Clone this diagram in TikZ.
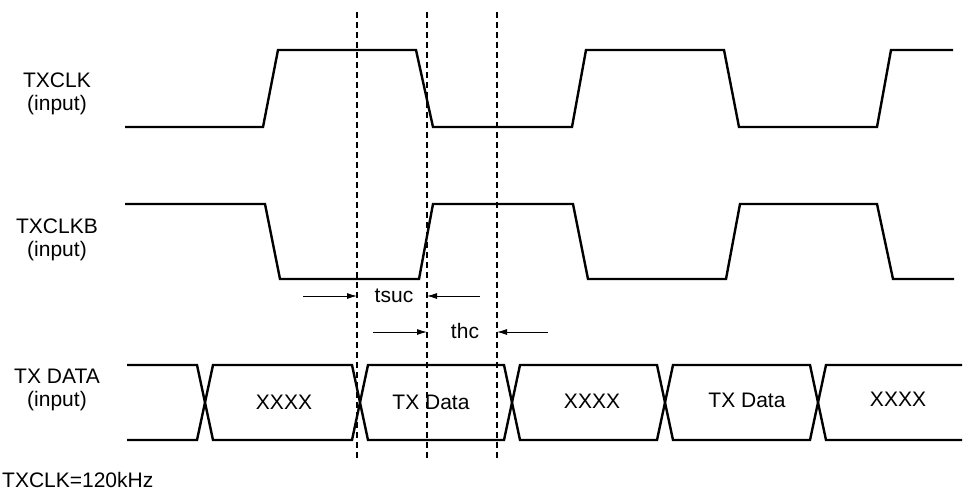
\documentclass[tikz,border=0pt]{standalone}
\usepackage{fontspec}
\setmainfont{Liberation Sans}
\usetikzlibrary{arrows.meta}
\begin{document}
\begin{tikzpicture}[x=1pt,y=-1pt,
  wave/.style={line width=2.4pt, line join=miter},
  guide/.style={line width=1.3pt, dash pattern=on 6pt off 4pt},
  dimarrow/.style={line width=0.9pt, -{Latex[length=10pt,width=6pt]}},
  lbl/.style={font=\fontsize{21}{23}\selectfont, inner sep=0pt, align=center},
  txt/.style={font=\fontsize{21}{23}\selectfont, inner sep=0pt}]
\useasboundingbox (0,0) rectangle (964,493);
% signal labels
\node[lbl] (lclk) at (57,94) {TXCLK\\(input)};
\node[lbl] (lclkb) at (57,240) {TXCLKB\\(input)};
\node[lbl] (ldata) at (57,390) {TX DATA\\(input)};
\node[txt, anchor=west] (lfreq) at (2,480) {TXCLK=120kHz};
% TXCLK
\draw[wave] (125,127) -- (263,127) -- (278,50) -- (416,50) -- (433,127) -- (572,127)
  -- (586,50) -- (724,50) -- (739,127) -- (877,127) -- (891,50) -- (953,50);
% TXCLKB
\draw[wave] (125,204) -- (265,204) -- (280,279) -- (419,279) -- (433,204) -- (573,204)
  -- (588,279) -- (726,279) -- (740,204) -- (877,204) -- (893,279) -- (954,279);
% TX DATA bus
\draw[wave] (127,365) -- (197,365) -- (213,440) -- (352,440) -- (368,365) -- (504,365)
  -- (520,440) -- (657,440) -- (673,365) -- (810,365) -- (826,440) -- (962,440);
\draw[wave] (127,440) -- (197,440) -- (213,365) -- (352,365) -- (368,440) -- (504,440)
  -- (520,365) -- (657,365) -- (673,440) -- (810,440) -- (826,365) -- (962,365);
\node[txt] (d1) at (284,402) {XXXX};
\node[txt] (d2) at (431,402) {TX Data};
\node[txt] (d3) at (592,401) {XXXX};
\node[txt] (d4) at (747,400) {TX Data};
\node[txt] (d5) at (898,399) {XXXX};
% guide lines
\coordinate (g1t) at (357,12); \coordinate (g1b) at (357,458);
\coordinate (g2t) at (427,12); \coordinate (g2b) at (427,458);
\coordinate (g3t) at (497,12); \coordinate (g3b) at (497,458);
\draw[guide] (g1t) -- (g1b);
\draw[guide] (g2t) -- (g2b);
\draw[guide] (g3t) -- (g3b);
% tsuc
\coordinate (s1) at (303,296); \coordinate (s1e) at (357,296);
\coordinate (s2) at (480,296); \coordinate (s2e) at (427,296);
\draw[dimarrow] (s1) -- (s1e);
\draw[dimarrow] (s2) -- (s2e);
\node[txt] (tsuc) at (394,296) {tsuc};
% thc
\coordinate (h1) at (373,332); \coordinate (h1e) at (427,332);
\coordinate (h2) at (548,332); \coordinate (h2e) at (497,332);
\draw[dimarrow] (h1) -- (h1e);
\draw[dimarrow] (h2) -- (h2e);
\node[txt] (thc) at (465,331) {thc};
\end{tikzpicture}
\end{document}
